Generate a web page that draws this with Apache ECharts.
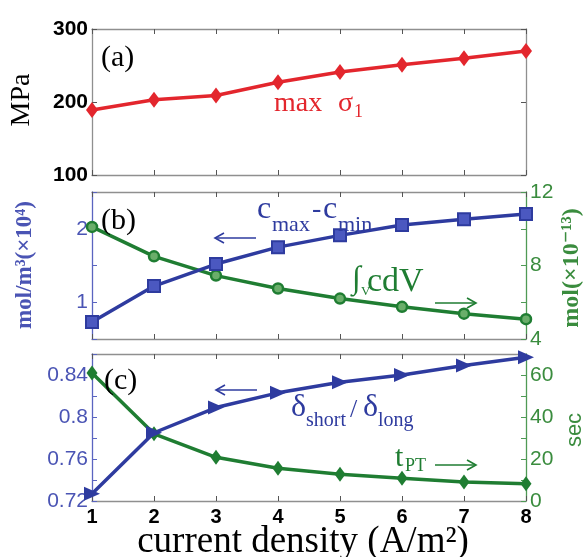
<!DOCTYPE html>
<html>
<head>
<meta charset="utf-8">
<script src="https://cdn.jsdelivr.net/npm/echarts@6/dist/echarts.min.js"></script>
<style>
html,body{margin:0;padding:0;background:#fff;}
#chart{width:586px;height:557px;}
</style>
</head>
<body>
<div id="chart"></div>
<script>
// ---- data ----
const currentDensity = [1, 2, 3, 4, 5, 6, 7, 8];
const maxStressMPa = [189, 203, 209, 227, 241, 251, 260, 270];
const concRange = [0.73, 1.22, 1.52, 1.75, 1.91, 2.05, 2.13, 2.20];
const totalMol = [10.1, 8.5, 7.45, 6.75, 6.2, 5.75, 5.38, 5.08];
const deltaRatio = [0.727, 0.785, 0.809, 0.823, 0.833, 0.840, 0.849, 0.857];
const tPT = [61, 32, 20.8, 15.6, 12.7, 10.8, 9.0, 8.2];

const xTickLabels = ['1','2','3','4','5','6','7','8'];
const stressTicks = [100, 200, 300];
const concTicks = [1, 2];
const molTicks = [4, 8, 12];
const deltaTicks = [0.72, 0.76, 0.8, 0.84];
const secTicks = [0, 20, 40, 60];

// ---- styles ----
const RED = '#e3262d';
const BLUE = '#2e3b9f';
const BLUE_TXT = '#4a54b4';
const GREEN = '#1f7d32';
const GREEN_TXT = '#3a8c3e';
const BOX = '#8f8f8f';
const SERIF = '"Liberation Serif", "DejaVu Serif", serif';
const SANS = '"Liberation Sans", Arial, sans-serif';

const pair = (ys) => currentDensity.map((x, i) => [x, ys[i]]);
const inList = (list) => (v) => list.some(t => Math.abs(t - v) < 1e-6);

const GL = 92, GR = 60;
const grids = [
  {left: GL, right: GR, top: 29, height: 146},
  {left: GL, right: GR, top: 192, height: 147},
  {left: GL, right: GR, top: 354, height: 147}
];

function xAx(gi, pos, showLabels) {
  return {
    type: 'value', gridIndex: gi, position: pos, min: 1, max: 8, interval: 1,
    axisLine: {show: true, lineStyle: {color: BOX, width: 1.3}},
    axisTick: {show: true, inside: true, length: 5, lineStyle: {color: '#555', width: 1}},
    axisLabel: {show: showLabels, margin: 6, color: '#000', fontFamily: SANS, fontWeight: 'bold', fontSize: 20,
      formatter: (v) => xTickLabels[currentDensity.indexOf(v)] || ''},
    splitLine: {show: false}
  };
}

function yAx(gi, pos, o) {
  return {
    type: 'value', gridIndex: gi, position: pos, min: o.min, max: o.max, interval: o.interval,
    axisLine: {show: true, lineStyle: {color: o.lineColor, width: 1.3}},
    axisTick: {show: true, inside: true, length: 5, lineStyle: {color: o.tickColor || o.lineColor, width: 1}},
    axisLabel: {show: !!o.labels, margin: 4, color: o.labelColor, fontFamily: SANS,
      fontWeight: o.bold ? 'bold' : 'normal', fontSize: o.fontSize || 21,
      showMinLabel: true, showMaxLabel: true,
      formatter: (v) => (o.labels && inList(o.labels)(v)) ? String(Number(v.toFixed(2))) : ''},
    splitLine: {show: false}
  };
}

const chart = echarts.init(document.getElementById('chart'), null, {renderer: 'canvas'});

function txt(text, x, y, size, color, opts) {
  opts = opts || {};
  return {
    type: 'text', x: x, y: y, rotation: opts.rot || 0, scaleX: opts.sx || 1, z: 100,
    style: {text: text, fill: color, font: (opts.weight || 'normal') + ' ' + size + 'px ' + (opts.family || SERIF),
      align: opts.align || 'left', verticalAlign: 'middle'}
  };
}
function arrow(x1, x2, y, color) {
  const dir = x2 > x1 ? 1 : -1;
  return [
    {type: 'line', z: 100, shape: {x1: x1, y1: y, x2: x2, y2: y}, style: {stroke: color, lineWidth: 1.6}},
    {type: 'polyline', z: 100, shape: {points: [[x2 - dir * 9, y - 5], [x2, y], [x2 - dir * 9, y + 5]]},
      style: {stroke: color, lineWidth: 1.6, fill: null}}
  ];
}

const graphics = [
  txt('(a)', 101, 58, 30, '#000'),
  txt('(b)', 101, 221, 30, '#000'),
  txt('(c)', 104, 381, 30, '#000'),
  // panel a label
  txt('max', 274, 104, 28, RED),
  txt('σ', 338, 104, 28, RED),
  txt('1', 354, 112, 18, RED),
  // panel b
  txt('c', 257, 210, 32, BLUE),
  txt('max', 272, 225, 22, BLUE),
  txt('-', 312, 210, 28, BLUE),
  txt('c', 323, 210, 32, BLUE),
  txt('min', 338, 225, 22, BLUE),
  ...arrow(256, 215, 238, BLUE),
  txt('∫', 352, 280, 32, GREEN),
  txt('V', 361, 292, 13, GREEN),
  txt('cdV', 367, 282, 34, GREEN),
  ...arrow(435, 476, 303, GREEN),
  // panel c
  ...arrow(257, 216, 390, BLUE),
  txt('δ', 291, 408, 32, BLUE),
  txt('short', 306, 421, 20, BLUE),
  txt('/', 350, 410, 26, BLUE),
  txt('δ', 363, 408, 32, BLUE),
  txt('long', 378, 421, 20, BLUE),
  txt('t', 395, 458, 30, GREEN),
  txt('PT', 405, 466, 18, GREEN),
  ...arrow(435, 476, 465, GREEN),
  // axis titles
  txt('MPa', 22, 100, 28, '#000', {rot: Math.PI / 2, align: 'center'}),
  txt('mol/m³(×10⁴)', 25, 265, 23, BLUE_TXT, {rot: Math.PI / 2, align: 'center', weight: 'bold'}),
  txt('mol(×10⁻¹³)', 572, 268, 24, GREEN_TXT, {rot: Math.PI / 2, align: 'center', weight: 'bold'}),
  txt('sec', 575, 430, 22, GREEN_TXT, {rot: Math.PI / 2, align: 'center', family: SANS}),
  txt('current density (A/m²)', 303, 542, 37, '#000', {align: 'center'})
];

const option = {
  animation: false,
  backgroundColor: '#fff',
  grid: grids,
  xAxis: [
    xAx(0, 'bottom', false), xAx(0, 'top', false),
    xAx(1, 'bottom', false), xAx(1, 'top', false),
    xAx(2, 'bottom', true), xAx(2, 'top', false)
  ],
  yAxis: [
    yAx(0, 'left', {min: 100, max: 300, interval: 100, lineColor: BOX, tickColor: '#555', labels: stressTicks, labelColor: '#000', bold: true, fontSize: 21}),
    yAx(0, 'right', {min: 100, max: 300, interval: 100, lineColor: BOX, tickColor: '#555'}),
    yAx(1, 'left', {min: 0.5, max: 2.5, interval: 0.5, lineColor: '#5a64c0', labels: concTicks, labelColor: BLUE_TXT}),
    yAx(1, 'right', {min: 4, max: 12, interval: 2, lineColor: '#4f9a55', labels: molTicks, labelColor: GREEN_TXT}),
    yAx(2, 'left', {min: 0.72, max: 0.86, interval: 0.02, lineColor: '#5a64c0', labels: deltaTicks, labelColor: BLUE_TXT}),
    yAx(2, 'right', {min: 0, max: 70, interval: 10, lineColor: '#4f9a55', labels: secTicks, labelColor: GREEN_TXT})
  ],
  series: [
    {type: 'line', xAxisIndex: 0, yAxisIndex: 0, data: pair(maxStressMPa), clip: false,
      lineStyle: {color: RED, width: 3.5}, symbol: 'diamond', symbolSize: [12, 16],
      itemStyle: {color: RED}},
    {type: 'line', xAxisIndex: 2, yAxisIndex: 3, data: pair(totalMol), clip: false,
      lineStyle: {color: GREEN, width: 3.5}, symbol: 'circle', symbolSize: 10,
      itemStyle: {color: '#6aae6a', borderColor: GREEN, borderWidth: 2.5}},
    {type: 'line', xAxisIndex: 2, yAxisIndex: 2, data: pair(concRange), clip: false,
      lineStyle: {color: BLUE, width: 3.5}, symbol: 'rect', symbolSize: 12,
      itemStyle: {color: '#4b58c0', borderColor: BLUE, borderWidth: 2}},
    {type: 'line', xAxisIndex: 4, yAxisIndex: 5, data: pair(tPT), clip: false,
      lineStyle: {color: GREEN, width: 3.5}, symbol: 'diamond', symbolSize: [11, 15],
      itemStyle: {color: GREEN}},
    {type: 'line', xAxisIndex: 4, yAxisIndex: 4, data: pair(deltaRatio), clip: false,
      lineStyle: {color: BLUE, width: 3.5}, symbol: 'triangle', symbolSize: [14, 16], symbolRotate: -90,
      itemStyle: {color: BLUE}}
  ],
  graphic: graphics
};
chart.setOption(option);
</script>
</body>
</html>
